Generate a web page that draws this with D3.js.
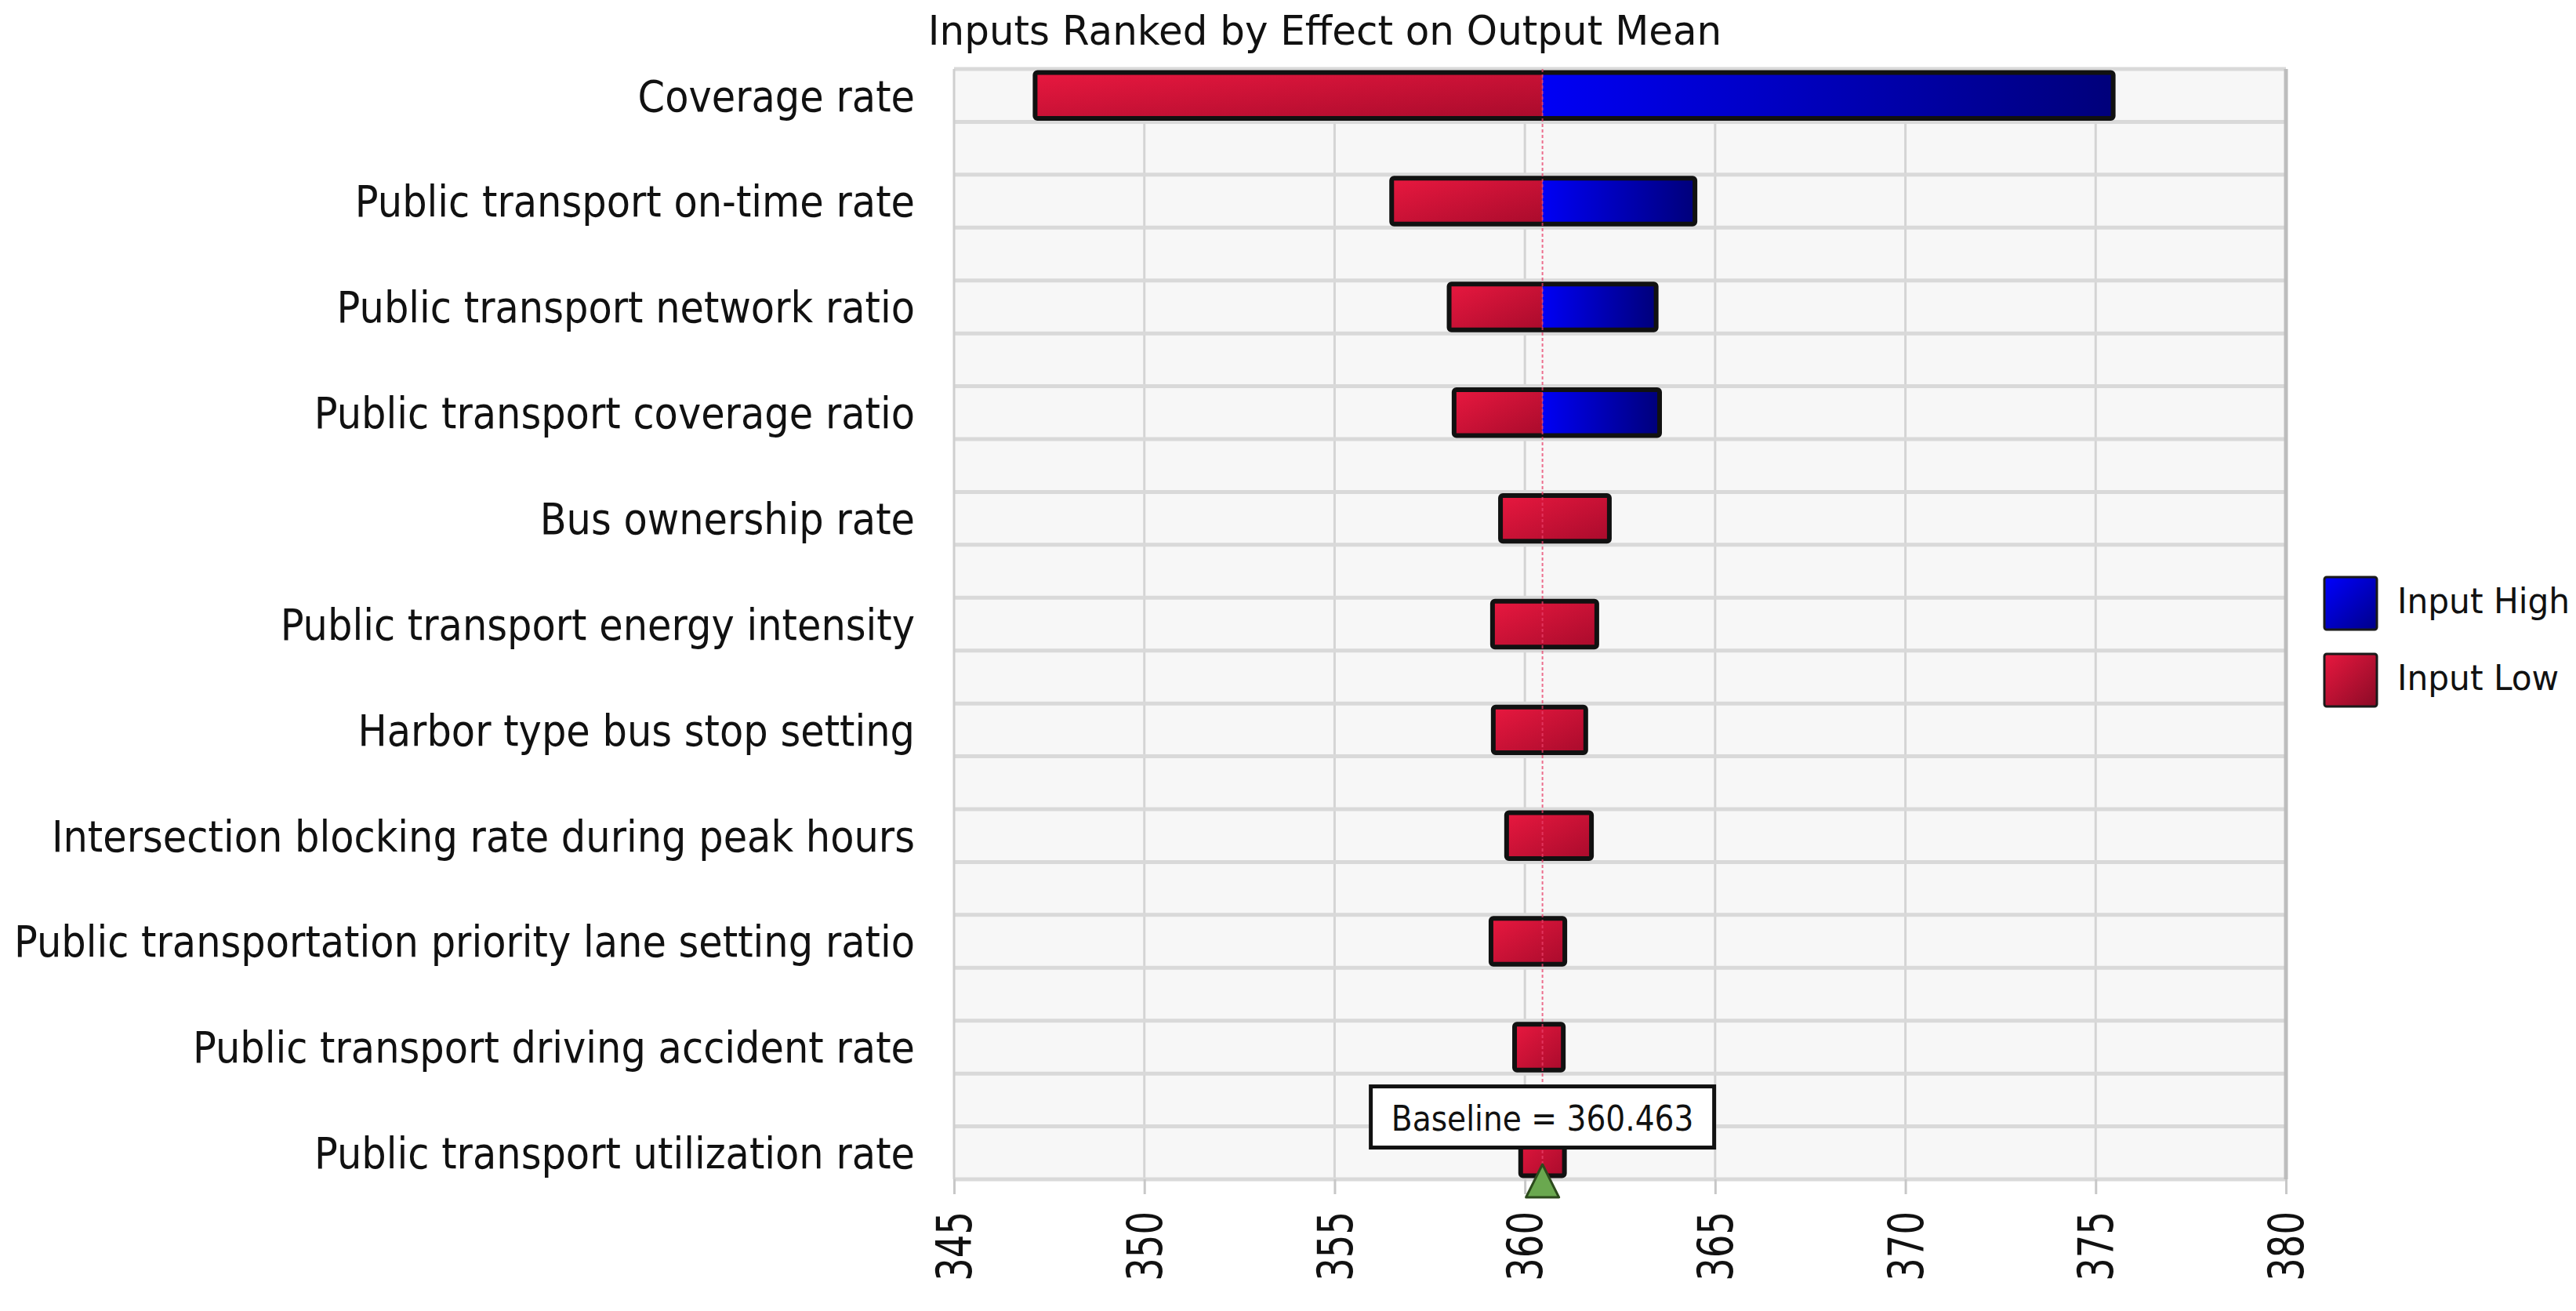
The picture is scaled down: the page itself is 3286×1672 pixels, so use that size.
<!DOCTYPE html>
<html>
<head>
<meta charset="utf-8">
<script src="https://cdn.jsdelivr.net/npm/d3@7"></script>
<style>
	body { margin: 0; background: #fff; }
	text { font-family: "DejaVu Sans", sans-serif; fill: #111; }
</style>
</head>
<body>
<svg width="3286" height="1672"></svg>
<script>
(function() {
	// data
	const categories = [
		'Coverage rate',
		'Public transport on-time rate',
		'Public transport network ratio',
		'Public transport coverage ratio',
		'Bus ownership rate',
		'Public transport energy intensity',
		'Harbor type bus stop setting',
		'Intersection blocking rate during peak hours',
		'Public transportation priority lane setting ratio',
		'Public transport driving accident rate',
		'Public transport utilization rate'
	];
	const baseline = 360.463;
	// red (input low) segment
	const lowStart = [347.13, 356.50, 358.01, 358.14, 359.36, 359.15, 359.17, 359.52, 359.11, 359.73, 359.89];
	const lowEnd   = [360.463, 360.463, 360.463, 360.463, 362.22, 361.89, 361.60, 361.75, 361.05, 361.01, 361.04];
	// blue (input high) segment, from baseline
	const highEnd  = [375.46, 364.47, 363.45, 363.54, null, null, null, null, null, null, null];
	const tickValues = [345, 350, 355, 360, 365, 370, 375, 380];
	const legendLabels = ['Input High', 'Input Low'];

	const svg = d3.select('svg');

	const left = 1217, right = 2916, top = 88, bottom = 1504;

	const x = d3.scaleLinear().domain([345, 380]).range([left, right]);
	const y = d3.scaleBand().domain(categories).range([top, bottom])
		.paddingInner(0.5).paddingOuter(0);
	const bw = y.bandwidth();

	const defs = svg.append('defs');
	const red = defs.append('linearGradient').attr('id', 'redGrad')
		.attr('x1', 0).attr('y1', 0).attr('x2', 1).attr('y2', 1);
	red.append('stop').attr('offset', '0%').attr('stop-color', '#e8183f');
	red.append('stop').attr('offset', '100%').attr('stop-color', '#a90b2c');
	const blue = defs.append('linearGradient').attr('id', 'blueGrad')
		.attr('x1', 0).attr('y1', 0).attr('x2', 1).attr('y2', 0);
	blue.append('stop').attr('offset', '0%').attr('stop-color', '#0000f5');
	blue.append('stop').attr('offset', '100%').attr('stop-color', '#00007a');
	const blueSq = defs.append('linearGradient').attr('id', 'blueSq')
		.attr('x1', 0).attr('y1', 0).attr('x2', 1).attr('y2', 1);
	blueSq.append('stop').attr('offset', '0%').attr('stop-color', '#0000ff');
	blueSq.append('stop').attr('offset', '100%').attr('stop-color', '#000088');
	const redSq = defs.append('linearGradient').attr('id', 'redSq')
		.attr('x1', 0).attr('y1', 0).attr('x2', 1).attr('y2', 1);
	redSq.append('stop').attr('offset', '0%').attr('stop-color', '#e8183f');
	redSq.append('stop').attr('offset', '100%').attr('stop-color', '#8a0a26');

	// plot background
	svg.append('rect')
		.attr('x', left).attr('y', top)
		.attr('width', right - left).attr('height', bottom - top)
		.attr('fill', '#f7f7f7');

	// vertical grid
	svg.append('g').selectAll('line')
		.data(tickValues.slice(1, -1))
		.join('line')
		.attr('x1', d => x(d)).attr('x2', d => x(d))
		.attr('y1', top).attr('y2', bottom)
		.attr('stroke', '#d4d4d4').attr('stroke-width', 3);

	// horizontal grid at band edges
	const edges = [];
	categories.forEach(c => { edges.push(y(c)); edges.push(y(c) + bw); });
	svg.append('g').selectAll('line')
		.data(edges)
		.join('line')
		.attr('x1', left).attr('x2', right)
		.attr('y1', d => d).attr('y2', d => d)
		.attr('stroke', '#d9d9d9').attr('stroke-width', 5);

	// borders
	svg.append('line').attr('x1', left).attr('x2', left).attr('y1', top).attr('y2', bottom)
		.attr('stroke', '#cfcfcf').attr('stroke-width', 3);
	svg.append('line').attr('x1', right).attr('x2', right).attr('y1', top).attr('y2', bottom)
		.attr('stroke', '#bdbdbd').attr('stroke-width', 5);

	// x axis
	const axis = svg.append('g')
		.attr('transform', `translate(0, ${bottom})`)
		.call(d3.axisBottom(x).tickValues(tickValues).tickSize(19).tickFormat(d3.format('d')));
	axis.select('.domain').remove();
	axis.selectAll('.tick line').attr('stroke', '#c8c8c8').attr('stroke-width', 3);
	axis.selectAll('.tick text')
		.attr('x', 0).attr('y', 0).attr('dy', '0.35em')
		.attr('text-anchor', 'end')
		.attr('font-size', 62)
		.attr('font-family', '"DejaVu Sans", sans-serif')
		.attr('fill', '#111')
		.attr('transform', 'translate(0, 41) rotate(-90) scale(0.75, 1)');

	// bars
	const inset = 4.5;
	const rows = categories.map((c, i) => ({
		cat: c, lo: lowStart[i], le: lowEnd[i], hi: highEnd[i]
	}));
	const bars = svg.append('g').selectAll('g')
		.data(rows)
		.join('g');
	bars.append('rect')
		.attr('x', d => x(d.lo))
		.attr('y', d => y(d.cat) + inset)
		.attr('width', d => x(d.le) - x(d.lo))
		.attr('height', bw - 2 * inset)
		.attr('fill', 'url(#redGrad)');
	bars.filter(d => d.hi != null).append('rect')
		.attr('x', x(baseline))
		.attr('y', d => y(d.cat) + inset)
		.attr('width', d => x(d.hi) - x(baseline))
		.attr('height', bw - 2 * inset)
		.attr('fill', 'url(#blueGrad)');
	bars.append('rect')
		.attr('x', d => x(d.lo))
		.attr('y', d => y(d.cat) + inset)
		.attr('width', d => x(d.hi != null ? d.hi : d.le) - x(d.lo))
		.attr('height', bw - 2 * inset)
		.attr('rx', 3)
		.attr('fill', 'none')
		.attr('stroke', '#111').attr('stroke-width', 6);

	// baseline marker
	svg.append('line')
		.attr('x1', x(baseline)).attr('x2', x(baseline))
		.attr('y1', top).attr('y2', bottom)
		.attr('stroke', '#e8406a').attr('stroke-width', 2)
		.attr('stroke-dasharray', '4,3').attr('stroke-opacity', 0.75);

	// y labels
	svg.append('g').selectAll('text')
		.data(categories)
		.join('text')
		.attr('transform', d => `translate(1167, ${y(d) + bw / 2}) scale(0.9, 1)`)
		.attr('dy', '0.36em')
		.attr('text-anchor', 'end')
		.attr('font-size', 55)
		.text(d => d);

	// title
	svg.append('text')
		.attr('transform', 'translate(1690, 57) scale(0.96, 1)')
		.attr('text-anchor', 'middle')
		.attr('font-size', 52)
		.text('Inputs Ranked by Effect on Output Mean');

	// baseline box
	const lastY = y(categories[categories.length - 1]);
	const bx = x(baseline);
	svg.append('rect')
		.attr('x', bx - 219).attr('y', lastY - 51)
		.attr('width', 438).attr('height', 78)
		.attr('fill', '#fff').attr('stroke', '#111').attr('stroke-width', 5);
	svg.append('text')
		.attr('transform', `translate(${bx}, ${lastY + 5}) scale(0.89, 1)`)
		.attr('text-anchor', 'middle')
		.attr('font-size', 44)
		.text('Baseline = ' + baseline);

	// triangle
	svg.append('path')
		.attr('d', `M${bx},${bottom - 19} L${bx + 21},${bottom + 23} L${bx - 21},${bottom + 23} Z`)
		.attr('fill', '#6aa84f').attr('stroke', '#2c4a1c').attr('stroke-width', 3)
		.attr('stroke-linejoin', 'round');

	// legend
	const legend = svg.append('g').attr('transform', 'translate(2965, 736)');
	const items = legend.selectAll('g')
		.data(legendLabels)
		.join('g')
		.attr('transform', (d, i) => `translate(0, ${i * 98})`);
	items.append('rect')
		.attr('width', 67).attr('height', 67).attr('rx', 3)
		.attr('fill', (d, i) => i === 0 ? 'url(#blueSq)' : 'url(#redSq)')
		.attr('stroke', '#1a1a1a').attr('stroke-width', 3);
	items.append('text')
		.attr('transform', 'translate(93, 46) scale(0.94, 1)')
		.attr('font-size', 45)
		.text(d => d);
})();
</script>
</body>
</html>
